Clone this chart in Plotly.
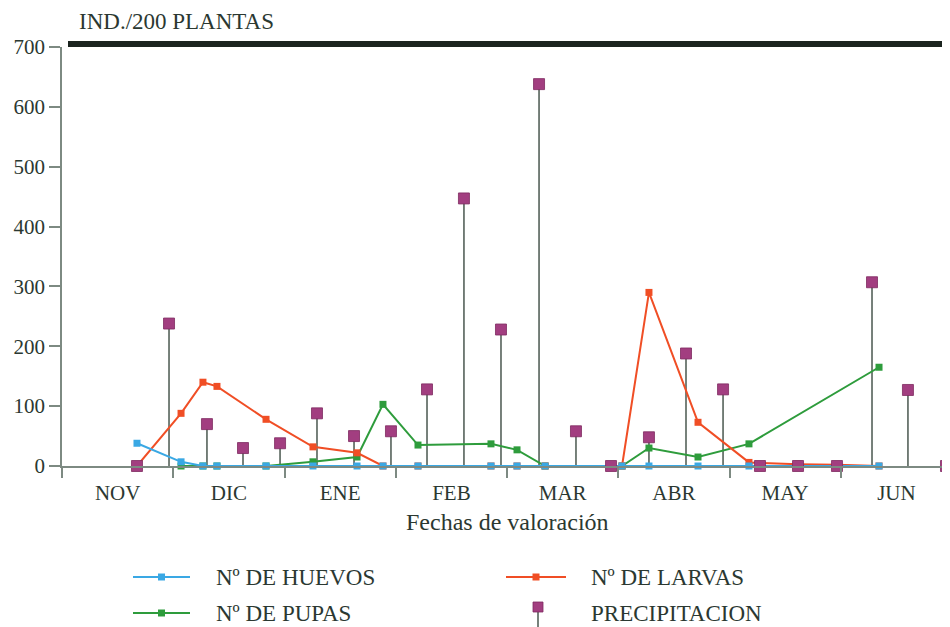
import plotly.graph_objects as go

# ---------------- data ----------------
months = ["NOV", "DIC", "ENE", "FEB", "MAR", "ABR", "MAY", "JUN"]
month_centers = [0.5, 1.5, 2.5, 3.5, 4.5, 5.5, 6.5, 7.5]
month_bounds = [0, 1, 2, 3, 4, 5, 6, 7, 8]

# sampling dates, in months since 1 November
sample_pos = [0.674, 1.070, 1.267, 1.393, 1.834, 2.256, 2.652, 2.885, 3.200,
              3.856, 4.090, 4.342, 5.034, 5.276, 5.717, 6.175, 6.616, 6.966, 7.344]
huevos = [38, 7, 0, 0, 0, 0, 0, 0, 0, 0, 0, 0, 0, 0, 0, 0, None, None, 0]
larvas = [0, 88, 140, 133, 78, 32, 22, 0, 0, 0, 0, 0, 0, 290, 73, 6, 3, 2, 0]
pupas = [None, 0, 0, 0, 0, 7, 15, 103, 35, 37, 27, 0, 0, 30, 15, 37, None, None, 165]

# ten-day rainfall periods
precip_pos = [0.674, 0.962, 1.303, 1.627, 1.960, 2.292, 2.625, 2.957, 3.281, 3.613,
              3.946, 4.288, 4.620, 4.935, 5.276, 5.609, 5.942, 6.274, 6.616, 6.966,
              7.281, 7.604, 7.946]
precip = [0, 238, 70, 30, 38, 88, 50, 58, 128, 447, 228, 638, 58, 0, 48, 188, 128,
          0, 0, 0, 307, 127, 0]

yticks = [0, 100, 200, 300, 400, 500, 600, 700]

# ---------------- style ----------------
FONT = "Liberation Serif"
TXT = "#2b3831"
AX = "#7d8a82"
C_HUE = "#3aa8e4"
C_LAR = "#f04e25"
C_PUP = "#2e9c3c"
C_PRE = "#a23e80"
C_STEM = "#55625a"

OFF = 8  # page body margin
# target page-pixel layout
PL, PT, PR, PB = 62, 47, 950, 466
W, H = 950 - OFF, 627 - OFF
L, T = PL - OFF, PT - OFF
R = 0
B = H - (PB - OFF)
PW, PH = W - L - R, H - T - B


def px(xp):
    return (xp - PL) / PW


def py(yp):
    return (PB - yp) / PH


fig = go.Figure()

# stems of precipitation
sx, sy = [], []
for p, v in zip(precip_pos, precip):
    sx += [p, p, None]
    sy += [0, v, None]
fig.add_trace(go.Scatter(x=sx, y=sy, mode="lines", line=dict(color=C_STEM, width=1.6),
                         hoverinfo="skip", cliponaxis=False))

fig.add_trace(go.Scatter(x=sample_pos, y=pupas, mode="lines+markers", name="Nº DE PUPAS",
                         connectgaps=True, line=dict(color=C_PUP, width=2),
                         marker=dict(symbol="square", size=7, color=C_PUP), cliponaxis=False))
fig.add_trace(go.Scatter(x=sample_pos, y=larvas, mode="lines+markers", name="Nº DE LARVAS",
                         connectgaps=True, line=dict(color=C_LAR, width=2),
                         marker=dict(symbol="square", size=7, color=C_LAR), cliponaxis=False))
fig.add_trace(go.Scatter(x=sample_pos, y=huevos, mode="lines+markers", name="Nº DE HUEVOS",
                         connectgaps=True, line=dict(color=C_HUE, width=2),
                         marker=dict(symbol="square", size=7, color=C_HUE), cliponaxis=False))
fig.add_trace(go.Scatter(x=precip_pos, y=precip, mode="markers", name="PRECIPITACION",
                         marker=dict(symbol="square", size=11, color=C_PRE,
                                     line=dict(color="#7d2a60", width=0.8)),
                         cliponaxis=False))

shapes = []
annotations = []

# thick top bar
shapes.append(dict(type="line", xref="paper", yref="paper", x0=px(68), x1=px(950),
                   y0=py(44), y1=py(44), line=dict(color="#1b241f", width=6)))

# title
annotations.append(dict(text="IND./200 PLANTAS", xref="paper", yref="paper",
                        x=px(77), y=py(21), xanchor="left", yanchor="middle",
                        showarrow=False, font=dict(family=FONT, size=23, color=TXT)))
# x axis title
annotations.append(dict(text="Fechas de valoración", xref="paper", yref="paper",
                        x=px(507), y=py(522), xanchor="center", yanchor="middle",
                        showarrow=False, font=dict(family=FONT, size=24, color=TXT)))

# custom legend
legend_items = [
    ("Nº DE HUEVOS", C_HUE, 133, 190, 577, 214),
    ("Nº DE LARVAS", C_LAR, 506, 566, 577, 589),
    ("Nº DE PUPAS", C_PUP, 133, 190, 613, 214),
]
for label, col, x0, x1, yy, tx in legend_items:
    shapes.append(dict(type="line", xref="paper", yref="paper", x0=px(x0), x1=px(x1),
                       y0=py(yy), y1=py(yy), line=dict(color=col, width=2)))
    cx = (x0 + x1) / 2
    shapes.append(dict(type="rect", xref="paper", yref="paper", x0=px(cx - 3.5), x1=px(cx + 3.5),
                       y0=py(yy - 3.5), y1=py(yy + 3.5), fillcolor=col, line=dict(width=0)))
    annotations.append(dict(text=label, xref="paper", yref="paper", x=px(tx), y=py(yy),
                            xanchor="left", yanchor="middle", showarrow=False,
                            font=dict(family=FONT, size=23, color=TXT)))
# precipitation legend symbol
shapes.append(dict(type="line", xref="paper", yref="paper", x0=px(538), x1=px(538),
                   y0=py(610), y1=py(627), line=dict(color=C_STEM, width=1.6)))
shapes.append(dict(type="rect", xref="paper", yref="paper", x0=px(533), x1=px(543),
                   y0=py(602), y1=py(612), fillcolor=C_PRE, line=dict(color="#7d2a60", width=0.8)))
annotations.append(dict(text="PRECIPITACION", xref="paper", yref="paper", x=px(589), y=py(613),
                        xanchor="left", yanchor="middle", showarrow=False,
                        font=dict(family=FONT, size=23, color=TXT)))

fig.update_layout(
    width=W, height=H,
    margin=dict(l=L, r=R, t=T, b=B),
    paper_bgcolor="white", plot_bgcolor="white",
    showlegend=False,
    shapes=shapes, annotations=annotations,
    font=dict(family=FONT, color=TXT),
    xaxis=dict(range=[0, 7.982], tickmode="array", tickvals=month_centers, ticktext=months,
               ticks="", showline=True, linecolor=AX, linewidth=1.5, showgrid=False,
               zeroline=False, ticklabelstandoff=7,
               tickfont=dict(family=FONT, size=21, color=TXT),
               minor=dict(tickmode="array", tickvals=month_bounds, ticks="outside",
                          ticklen=10, tickcolor=AX, tickwidth=1.5, showgrid=False)),
    yaxis=dict(range=[0, 700], tickmode="array", tickvals=yticks, ticks="outside",
               ticklen=11, tickcolor=AX, tickwidth=1.5, showline=True, linecolor=AX,
               linewidth=1.5, showgrid=False, zeroline=False,
               tickfont=dict(family=FONT, size=21, color=TXT)),
)

fig.write_html("out.html")
